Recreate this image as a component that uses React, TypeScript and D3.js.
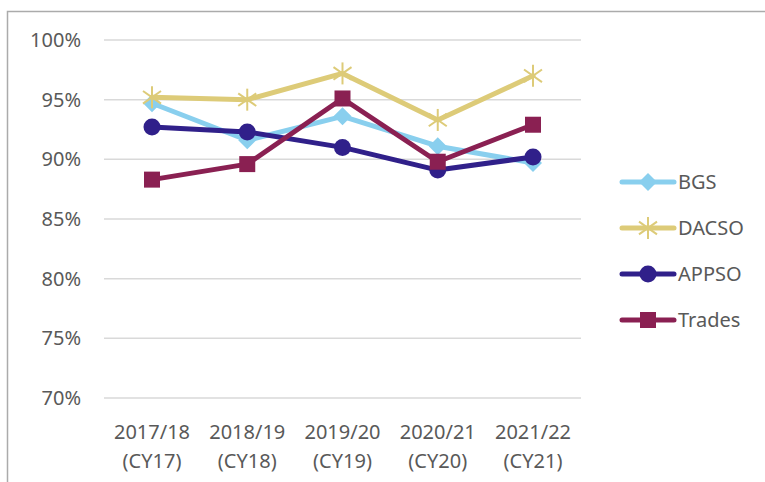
import React from "react";
import * as d3 from "d3";

const categories = ["2017/18|(CY17)", "2018/19|(CY18)", "2019/20|(CY19)", "2020/21|(CY20)", "2021/22|(CY21)"];
const yTicks = [70, 75, 80, 85, 90, 95, 100];
const bgs = [94.7, 91.6, 93.6, 91.1, 89.7];
const dacso = [95.2, 95.0, 97.2, 93.3, 97.0];
const appso = [92.7, 92.3, 91.0, 89.1, 90.2];
const trades = [88.3, 89.6, 95.1, 89.8, 92.9];

type Marker = "diamond" | "star" | "circle" | "square";
const series: { name: string; values: number[]; color: string; marker: Marker }[] = [
  { name: "BGS", values: bgs, color: "#89CFEE", marker: "diamond" },
  { name: "DACSO", values: dacso, color: "#DDCB78", marker: "star" },
  { name: "APPSO", values: appso, color: "#30208A", marker: "circle" },
  { name: "Trades", values: trades, color: "#8A2052", marker: "square" },
];

function MarkerShape({ type, color, x, y }: { type: Marker; color: string; x: number; y: number }) {
  if (type === "diamond") {
    const s = 9;
    return <path d={`M${x},${y - s}L${x + s},${y}L${x},${y + s}L${x - s},${y}Z`} fill={color} />;
  }
  if (type === "circle") return <circle cx={x} cy={y} r={8.5} fill={color} />;
  if (type === "square") return <rect x={x - 8} y={y - 8} width={16} height={16} fill={color} />;
  const r = 11;
  const star = [90, 35, 145].map((a) => {
    const rad = (a * Math.PI) / 180;
    return (
      <line key={a} x1={x - r * Math.cos(rad)} y1={y - r * Math.sin(rad)} x2={x + r * Math.cos(rad)} y2={y + r * Math.sin(rad)} stroke={color} strokeWidth={2} />
    );
  });
  return <g>{star}</g>;
}

export default function App() {
  const W = 765, H = 482;
  const x = d3.scalePoint<string>().domain(categories).range([152, 533]);
  const y = d3.scaleLinear().domain([70, 100]).range([398, 40]);
  const line = d3.line<number>().x((_, i) => x(categories[i])!).y((v) => y(v));
  const font = "'Source Sans Pro', 'Noto Sans', 'Open Sans', sans-serif";
  const legendY = d3.scalePoint<string>().domain(series.map((s) => s.name)).range([182, 320]);
  const fs = 20;

  return (
    <svg width={W} height={H} style={{ position: "absolute", left: 0, top: 0 }} fontFamily={font}>
      <rect x={0} y={0} width={W} height={H} fill="#fff" />
      <path d={`M7.5,${H}V11.5H${W}`} fill="none" stroke="#ABABAB" strokeWidth={1.5} />
      {yTicks.map((t) => (
        <g key={t}>
          <line x1={104} x2={581} y1={y(t)} y2={y(t)} stroke="#D9D9D9" strokeWidth={1.5} />
          <text x={81} y={y(t)} dy="0.35em" textAnchor="end" fontSize={fs} fill="#595959">{t}%</text>
        </g>
      ))}
      {categories.map((c) => {
        const [a, b] = c.split("|");
        return (
          <text key={c} x={x(c)} y={439} textAnchor="middle" fontSize={fs} fill="#595959">
            <tspan x={x(c)} dy={0}>{a}</tspan>
            <tspan x={x(c)} dy={29}>{b}</tspan>
          </text>
        );
      })}
      {series.map((s) => (
        <g key={s.name}>
          <path d={line(s.values)!} fill="none" stroke={s.color} strokeWidth={5} strokeLinejoin="round" strokeLinecap="round" />
          {s.values.map((v, i) => (
            <MarkerShape key={i} type={s.marker} color={s.color} x={x(categories[i])!} y={y(v)} />
          ))}
        </g>
      ))}
      {series.map((s) => {
        const ly = legendY(s.name)!;
        return (
          <g key={s.name}>
            <line x1={622} x2={674} y1={ly} y2={ly} stroke={s.color} strokeWidth={5} strokeLinecap="round" />
            <MarkerShape type={s.marker} color={s.color} x={648} y={ly} />
            <text x={678} y={ly} dy="0.35em" fontSize={fs} fill="#595959">{s.name}</text>
          </g>
        );
      })}
    </svg>
  );
}
